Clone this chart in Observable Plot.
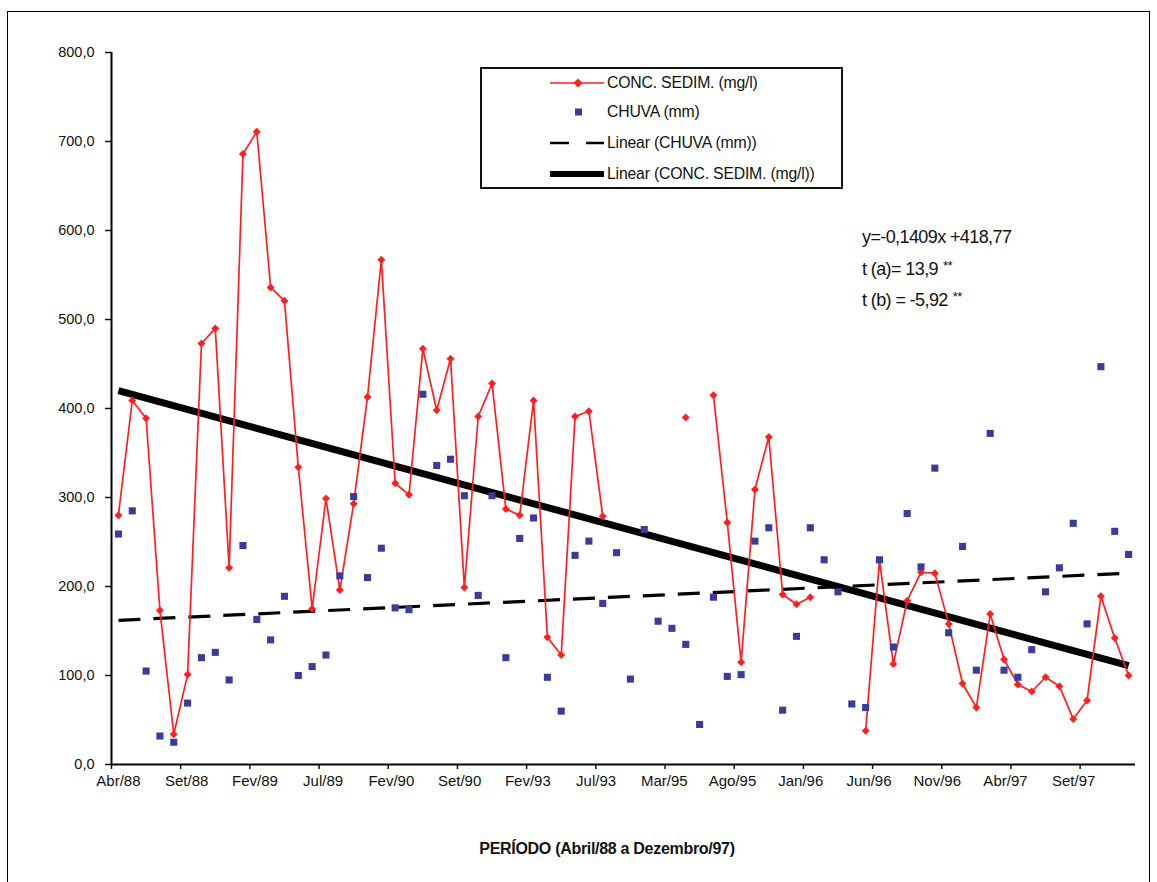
<!DOCTYPE html>
<html>
<head>
<meta charset="utf-8">
<script src="https://cdn.jsdelivr.net/npm/d3@7"></script>
<script src="https://cdn.jsdelivr.net/npm/@observablehq/plot@0.6"></script>
<style>
  body { margin: 0; background: #fff; font-family: "Liberation Sans", Arial, sans-serif; }
  #wrap { position: relative; width: 1157px; height: 882px; overflow: hidden; background: #fff; }
  #frame { position: absolute; left: 7px; top: 11px; width: 1143px; height: 900px; border: 1.5px solid #000; box-sizing: border-box; }
  #chart { position: absolute; left: 0; top: 0; }
  #legend { position: absolute; left: 480px; top: 67px; width: 363px; height: 122px; border: 2px solid #111; box-sizing: border-box; background: #fff; }
  .row { position: absolute; left: 66px; height: 20px; display: flex; align-items: center; font-size: 15.8px; color: #111; letter-spacing: -0.2px; white-space: nowrap; }
  .row svg { margin-right: 1px; }
  #eq { position: absolute; left: 862px; top: 223px; font-size: 18px; line-height: 28.5px; color: #111; letter-spacing: -0.6px; }
  #eq .st { font-size: 13px; vertical-align: 5px; margin-left: 5px; }
  #xtitle { position: absolute; left: 607px; top: 840px; transform: translateX(-50%); font-weight: bold; font-size: 16px; color: #111; letter-spacing: -0.3px; white-space: nowrap; }
</style>
</head>
<body>
<div id="wrap">
  <div id="frame"></div>
  <div id="chart"></div>
  <div id="legend">
    <div class="row" style="top:4px">
      <svg width="58" height="16"><line x1="2" y1="8" x2="56" y2="8" stroke="#ff1f1f" stroke-width="1.7"/><path d="M30,3.5 L34.5,8 L30,12.5 L25.5,8 Z" fill="#ff1f1f"/></svg>
      <span>CONC. SEDIM. (mg/l)</span>
    </div>
    <div class="row" style="top:33px">
      <svg width="58" height="16"><rect x="27" y="4.5" width="7" height="7" fill="#3b3b9e"/></svg>
      <span>CHUVA (mm)</span>
    </div>
    <div class="row" style="top:64px">
      <svg width="58" height="16"><line x1="2" y1="8" x2="21" y2="8" stroke="#000" stroke-width="2.5"/><line x1="38" y1="8" x2="56" y2="8" stroke="#000" stroke-width="2.5"/></svg>
      <span>Linear (CHUVA (mm))</span>
    </div>
    <div class="row" style="top:95px">
      <svg width="58" height="16"><line x1="2" y1="8" x2="56" y2="8" stroke="#000" stroke-width="6"/></svg>
      <span>Linear (CONC. SEDIM. (mg/l))</span>
    </div>
  </div>
  <div id="eq">
    <div>y=-0,1409x +418,77</div>
    <div>t (a)= 13,9<span class="st">**</span></div>
    <div>t (b) = -5,92<span class="st">**</span></div>
  </div>
  <div id="xtitle">PERÍODO (Abril/88 a Dezembro/97)</div>
</div>
<script>
// ---- data ----
const tickLabels = ["Abr/88","Set/88","Fev/89","Jul/89","Fev/90","Set/90","Fev/93","Jul/93",
                    "Mar/95","Ago/95","Jan/96","Jun/96","Nov/96","Abr/97","Set/97"];

// CONC. SEDIM. (mg/l) — one value per sampled period (null = no data)
const sedimento = [280, 409, 389, 173, 34, 101, 473, 490, 221, 686,
                   711, 536, 521, 334, 175, 299, 196, 293, 413, 567,
                   316, 303, 467, 398, 456, 199, 391, 428, 287, 280,
                   409, 143, 123, 391, 397, 279, null, null, null, null,
                   null, 390, null, 415, 272, 115, 309, 368, 191, 180,
                   188, null, null, null, 38, 229, 113, 184, 216, 215,
                   158, 91, 64, 169, 118, 90, 82, 98, 88, 51,
                   72, 189, 142, 100];

// CHUVA (mm)
const chuva = [259, 285, 105, 32, 25, 69, 120, 126, 95, 246,
               163, 140, 189, 100, 110, 123, 212, 301, 210, 243,
               176, 174, 416, 336, 343, 302, 190, 302, 120, 254,
               277, 98, 60, 235, 251, 181, 238, 96, 264, 161,
               153, 135, 45, 188, 99, 101, 251, 266, 61, 144,
               266, 230, 194, 68, 64, 230, 132, 282, 222, 333,
               148, 245, 106, 372, 106, 98, 129, 194, 221, 271,
               158, 447, 262, 236];

// Linear trend lines (values at first and last period)
const trendSed = [420, 111];
const trendChuva = [162, 215];

const yTicks = [0, 100, 200, 300, 400, 500, 600, 700, 800];

// ---- build ----
const n = sedimento.length;
const sedData = sedimento.map((v, i) => ({i, v}));
const chuvaData = chuva.map((v, i) => ({i, v}));
const trendSedData = [{i: 0, v: trendSed[0]}, {i: n - 1, v: trendSed[1]}];
const trendChuvaData = [{i: 0, v: trendChuva[0]}, {i: n - 1, v: trendChuva[1]}];

const tickPos = tickLabels.map((_, k) => 5 * k - 0.5);
const labelPos = tickLabels.map((_, k) => 4.931 * k);
const labelAt = new Map(labelPos.map((p, k) => [p, tickLabels[k]]));
const fmt = d => d.toFixed(1).replace(".", ",");

const chart = Plot.plot({
  width: 1157,
  height: 882,
  marginLeft: 111,
  marginRight: 22,
  marginTop: 52,
  marginBottom: 118,
  x: {type: "linear", domain: [-0.5, n - 0.5], axis: null},
  y: {domain: [0, 800], axis: null},
  style: {fontFamily: '"Liberation Sans", Arial, sans-serif', fontSize: "15px", color: "#111", background: "transparent", overflow: "visible"},
  marks: [
    Plot.line(trendChuvaData, {x: "i", y: "v", stroke: "#000", strokeWidth: 3.2, strokeDasharray: "22,13", strokeLinecap: "butt"}),
    Plot.line(trendSedData, {x: "i", y: "v", stroke: "#000", strokeWidth: 7, strokeLinecap: "butt"}),
    Plot.line(sedData, {x: "i", y: "v", stroke: "#ff1f1f", strokeWidth: 1.7}),
    Plot.dot(sedData, {x: "i", y: "v", symbol: "diamond2", r: 3.6, fill: "#ff1f1f", stroke: null}),
    Plot.dot(chuvaData, {x: "i", y: "v", symbol: "square", r: 4, fill: "#3b3b9e", stroke: null}),
    Plot.ruleX([-0.5], {stroke: "#000", strokeWidth: 2}),
    Plot.ruleY([0], {stroke: "#000", strokeWidth: 2}),
    Plot.axisY({ticks: yTicks, tickFormat: fmt, tickSize: 6, tickPadding: 11, fontSize: 14.5, label: null, strokeWidth: 1.5}),
    Plot.axisX({ticks: tickPos, tickFormat: () => "", tickSize: 5, label: null, strokeWidth: 1.5}),
    Plot.axisX({ticks: labelPos, tickFormat: d => labelAt.get(d), tickSize: 0, tickPadding: 11, fontSize: 15, label: null})
  ]
});
document.getElementById("chart").appendChild(chart);
</script>
</body>
</html>
